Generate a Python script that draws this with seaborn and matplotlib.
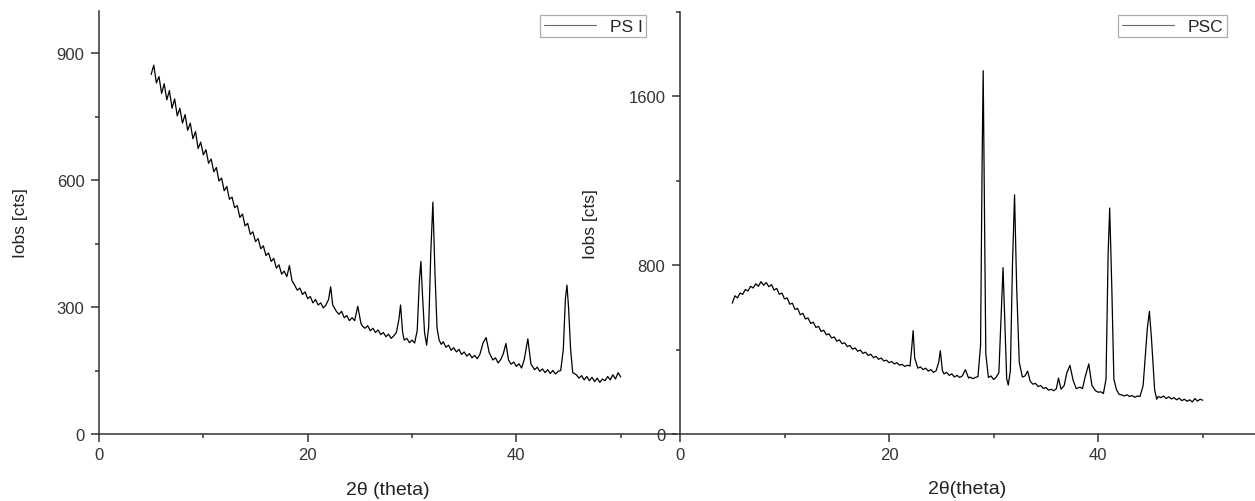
import matplotlib
matplotlib.use("Agg")
import matplotlib.pyplot as plt
from matplotlib.ticker import MultipleLocator
from matplotlib.lines import Line2D
import seaborn as sns
import pandas as pd

# ---- data ----
psi_2theta = [5.00, 5.25, 5.50, 5.75, 6.00, 6.25, 6.50, 6.75, 7.00, 7.25, 7.50, 7.75,
              8.00, 8.25, 8.50, 8.75, 9.00, 9.25, 9.50, 9.75, 10.00, 10.25, 10.50, 10.75,
              11.00, 11.25, 11.50, 11.75, 12.00, 12.25, 12.50, 12.75, 13.00, 13.25, 13.50, 13.75,
              14.00, 14.25, 14.50, 14.75, 15.00, 15.25, 15.50, 15.75, 16.00, 16.25, 16.50, 16.75,
              17.00, 17.25, 17.50, 17.75, 18.00, 18.25, 18.50, 18.75, 19.00, 19.25, 19.50, 19.75,
              20.00, 20.25, 20.50, 20.75, 21.00, 21.25, 21.50, 21.75, 22.00, 22.20, 22.40, 22.75,
              23.00, 23.25, 23.50, 23.75, 24.00, 24.25, 24.50, 24.80, 25.10, 25.25, 25.50, 25.75,
              26.00, 26.25, 26.50, 26.75, 27.00, 27.25, 27.50, 27.75, 28.00, 28.25, 28.50, 28.75,
              28.90, 29.10, 29.25, 29.50, 29.75, 30.00, 30.25, 30.50, 30.70, 30.85, 31.00, 31.20,
              31.40, 31.60, 31.80, 32.00, 32.20, 32.40, 32.60, 32.80, 33.00, 33.25, 33.50, 33.75,
              34.00, 34.25, 34.50, 34.75, 35.00, 35.25, 35.50, 35.75, 36.00, 36.25, 36.50, 36.80,
              37.10, 37.40, 37.75, 38.00, 38.25, 38.50, 38.75, 39.00, 39.25, 39.50, 39.75, 40.00,
              40.25, 40.50, 40.75, 41.10, 41.40, 41.75, 42.00, 42.25, 42.50, 42.75, 43.00, 43.25,
              43.50, 43.75, 44.00, 44.25, 44.50, 44.70, 44.85, 45.00, 45.20, 45.40, 45.75, 46.00,
              46.25, 46.50, 46.75, 47.00, 47.25, 47.50, 47.75, 48.00, 48.25, 48.50, 48.75, 49.00,
              49.25, 49.50, 49.75, 50.00]
psi_counts = [850, 872, 830, 845, 805, 828, 790, 812, 770, 792, 752, 770,
              735, 755, 718, 735, 698, 715, 675, 690, 660, 672, 640, 650,
              620, 630, 598, 605, 575, 585, 555, 560, 535, 540, 512, 520,
              492, 498, 472, 478, 455, 462, 438, 445, 422, 428, 408, 415,
              392, 400, 378, 385, 372, 398, 362, 352, 340, 345, 330, 336,
              320, 325, 310, 318, 305, 310, 298, 305, 318, 348, 305, 290,
              283, 290, 275, 280, 268, 275, 268, 302, 262, 255, 250, 256,
              244, 250, 240, 246, 235, 240, 230, 236, 226, 232, 240, 272,
              305, 240, 222, 226, 216, 222, 215, 245, 360, 408, 330, 240,
              210, 255, 430, 548, 380, 250, 222, 212, 218, 205, 210, 198,
              204, 194, 200, 188, 194, 184, 190, 180, 186, 178, 188, 215,
              228, 192, 175, 180, 168, 176, 190, 214, 175, 165, 170, 160,
              166, 156, 175, 225, 165, 152, 158, 148, 154, 145, 152, 143,
              150, 142, 148, 150, 200, 320, 352, 300, 200, 145, 140, 132,
              138, 128, 136, 126, 134, 124, 132, 122, 130, 126, 136, 128,
              140, 130, 145, 135]

psc_2theta = [5.00, 5.25, 5.50, 5.75, 6.00, 6.25, 6.50, 6.75, 7.00, 7.25, 7.50, 7.75,
              8.00, 8.25, 8.50, 8.75, 9.00, 9.25, 9.50, 9.75, 10.00, 10.25, 10.50, 10.75,
              11.00, 11.25, 11.50, 11.75, 12.00, 12.25, 12.50, 12.75, 13.00, 13.25, 13.50, 13.75,
              14.00, 14.25, 14.50, 14.75, 15.00, 15.25, 15.50, 15.75, 16.00, 16.25, 16.50, 16.75,
              17.00, 17.25, 17.50, 17.75, 18.00, 18.25, 18.50, 18.75, 19.00, 19.25, 19.50, 19.75,
              20.00, 20.25, 20.50, 20.75, 21.00, 21.25, 21.50, 21.75, 22.00, 22.15, 22.30, 22.45,
              22.75, 23.00, 23.25, 23.50, 23.75, 24.00, 24.25, 24.50, 24.75, 24.90, 25.10, 25.25,
              25.50, 25.75, 26.00, 26.25, 26.50, 26.75, 27.00, 27.30, 27.60, 27.75, 28.00, 28.25,
              28.50, 28.75, 28.90, 29.00, 29.10, 29.25, 29.50, 29.75, 30.00, 30.25, 30.50, 30.75,
              30.90, 31.05, 31.25, 31.40, 31.60, 31.80, 32.00, 32.20, 32.45, 32.75, 33.00, 33.25,
              33.50, 33.75, 34.00, 34.25, 34.50, 34.75, 35.00, 35.25, 35.50, 35.75, 36.00, 36.20,
              36.45, 36.75, 37.00, 37.30, 37.60, 37.90, 38.25, 38.50, 38.75, 39.10, 39.40, 39.75,
              40.00, 40.25, 40.50, 40.75, 40.95, 41.10, 41.30, 41.50, 41.75, 42.00, 42.25, 42.50,
              42.75, 43.00, 43.25, 43.50, 43.75, 44.00, 44.30, 44.70, 44.90, 45.10, 45.40, 45.60,
              45.75, 46.00, 46.25, 46.50, 46.75, 47.00, 47.25, 47.50, 47.75, 48.00, 48.25, 48.50,
              48.75, 49.00, 49.25, 49.50, 49.75, 50.00]
psc_counts = [620, 655, 645, 668, 662, 685, 678, 700, 692, 712, 700, 722,
              705, 718, 698, 708, 682, 690, 662, 668, 640, 645, 615, 620,
              590, 596, 565, 572, 545, 550, 524, 530, 505, 510, 486, 492,
              470, 475, 455, 460, 440, 446, 428, 432, 414, 420, 402, 408,
              392, 398, 382, 388, 372, 378, 362, 368, 354, 360, 346, 350,
              338, 344, 332, 338, 326, 330, 320, 326, 322, 400, 490, 360,
              312, 318, 305, 312, 298, 305, 292, 300, 340, 395, 300, 285,
              292, 278, 285, 270, 278, 268, 275, 305, 265, 270, 262, 268,
              272, 420, 1300, 1722, 1200, 380, 268, 275, 258, 270, 290, 600,
              788, 560, 260, 232, 300, 800, 1133, 700, 340, 270, 275, 298,
              250, 236, 240, 225, 230, 216, 220, 208, 212, 205, 215, 265,
              212, 230, 290, 325, 255, 215, 222, 215, 270, 332, 230, 205,
              198, 200, 192, 260, 850, 1071, 700, 260, 210, 188, 185, 180,
              186, 178, 182, 174, 180, 178, 230, 500, 581, 450, 210, 165,
              178, 172, 180, 168, 176, 166, 172, 162, 170, 158, 165, 155,
              162, 152, 168, 156, 165, 160]

psi_label = "PS I"
psc_label = "PSC"
psi_xticks = [0, 20, 40]
psi_yticks = [0, 300, 600, 900]
psc_xticks = [0, 20, 40]
psc_yticks = [0, 800, 1600]

sns.set_style("ticks")
plt.rcParams['font.family'] = ['Liberation Sans', 'DejaVu Sans']

W, H = 1255, 502
fig = plt.figure(figsize=(W / 100, H / 100), dpi=100)

ax1 = fig.add_axes([99 / W, 67 / H, 577 / W, 423 / H])
ax2 = fig.add_axes([680 / W, 67 / H, 575 / W, 422 / H])

df1 = pd.DataFrame({"x": psi_2theta, "y": psi_counts, "s": psi_label})
df2 = pd.DataFrame({"x": psc_2theta, "y": psc_counts, "s": psc_label})

tick_col = "#333333"
spine_col = "#333333"
for ax, df, xt, yt, ylim, xlim, ymin_step, xlab in [
    (ax1, df1, psi_xticks, psi_yticks, (0, 1000), (0, 55.3), 150, "2θ (theta)"),
    (ax2, df2, psc_xticks, psc_yticks, (0, 2000), (0, 55.0), 400, "2θ(theta)"),
]:
    sns.lineplot(data=df, x="x", y="y", hue="s", palette=["black"], estimator=None,
                 sort=False, linewidth=0.9, ax=ax, legend=False)
    ax.set_xlim(*xlim)
    ax.set_ylim(*ylim)
    ax.set_xticks(xt)
    ax.set_yticks(yt)
    ax.xaxis.set_minor_locator(MultipleLocator(10))
    ax.yaxis.set_minor_locator(MultipleLocator(ymin_step))
    for s in ["top", "right"]:
        ax.spines[s].set_visible(False)
    for s in ["left", "bottom"]:
        ax.spines[s].set_color(spine_col)
        ax.spines[s].set_linewidth(1.1)
    ax.tick_params(which="major", direction="out", length=6, width=1.1,
                   color=spine_col, labelsize=12, labelcolor=tick_col)
    ax.tick_params(which="minor", direction="out", length=3, width=1.1, color=spine_col)
    ax.tick_params(axis="y", which="major", pad=4.5)
    ax.tick_params(axis="x", which="major", pad=3.5)
    ax.set_xlabel(xlab, fontsize=14, color="#222222")
    ax.set_ylabel("Iobs [cts]", fontsize=12.5, color="#222222")
    ax.patch.set_alpha(0)

ax1.xaxis.set_label_coords(0.5, -0.11)
ax2.xaxis.set_label_coords(0.5, -0.11)
ax1.yaxis.set_label_coords(-(99 - 28) / 577, 0.5)
ax2.yaxis.set_label_coords(-(680 - 598) / 575, 0.5)

for ax, lab, xr in [(ax1, psi_label, 646), (ax2, psc_label, 1227)]:
    h = [Line2D([0], [0], color="#666666", linewidth=0.8)]
    leg = ax.legend(h, [lab], loc="upper right", bbox_to_anchor=(xr / W, 1 - 16 / H),
                    bbox_transform=fig.transFigure, frameon=True, fancybox=False,
                    edgecolor="#999999", fontsize=12.5, handlelength=3.0,
                    borderpad=0.2, handletextpad=0.8, borderaxespad=0)
    leg.get_frame().set_linewidth(0.9)

fig.savefig("out.png", dpi=100, facecolor="white")
